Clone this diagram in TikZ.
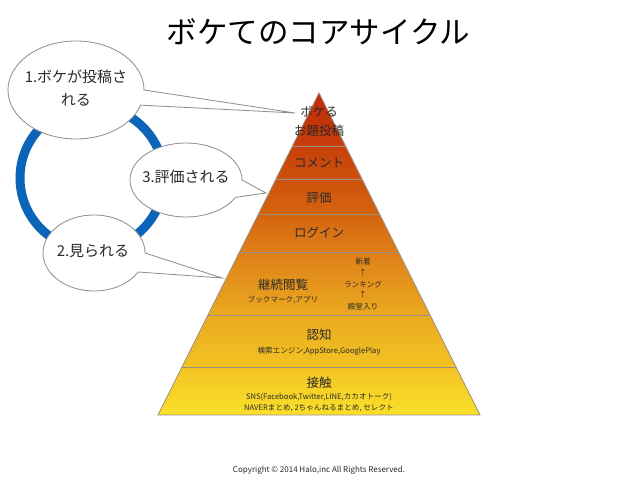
\documentclass[tikz,border=0pt]{standalone}
\usepackage{fontspec}
\setmainfont{Noto Sans CJK JP}[BoldFont={Noto Sans CJK JP}]
\usetikzlibrary{calc}
\definecolor{inktxt}{HTML}{2A2A2A}
\definecolor{layerline}{HTML}{9A8F80}
\definecolor{bubbleline}{HTML}{8C8C8C}
\definecolor{ringblue}{HTML}{0A64B8}
\definecolor{c0}{HTML}{FBE02A}
\definecolor{c1}{HTML}{F2C423}
\definecolor{c2}{HTML}{EAAA20}
\definecolor{c3}{HTML}{DF8019}
\definecolor{c4}{HTML}{D4640F}
\definecolor{c5}{HTML}{C8400A}
\definecolor{c6}{HTML}{C02A08}
\pgfdeclareverticalshading{pyrshade}{100bp}{
  color(0bp)=(c0); color(25bp)=(c0); color(32.3bp)=(c1); color(40.35bp)=(c2); color(50.15bp)=(c3);
  color(56.2bp)=(c4); color(66.5bp)=(c5); color(75bp)=(c6); color(100bp)=(c6)}
\newcommand{\speech}[9]{%
  \path[bubblestyle] ({#2+#4*cos(#6)},{#3+#5*sin(#6)})
    arc[start angle=#6,end angle=#7,x radius=#4pt,y radius=#5pt]
    -- (#8,#9) -- cycle;
  \node[bubbletext] (#1) at (#2,#3) {};}
\tikzset{
  bubblestyle/.style={draw=bubbleline,fill=white,line width=0.8pt,line join=miter},
  bubbletext/.style={inner sep=0pt,font=\fontsize{15}{23}\selectfont,text=inktxt,align=center},
  layerlabel/.style={inner sep=0pt,font=\fontsize{12.5}{19}\selectfont,text=inktxt,align=center},
  smalllabel/.style={inner sep=0pt,font=\fontsize{7.6}{11}\selectfont,text=inktxt,align=center},
  layersep/.style={draw=layerline,line width=1pt},
  ringstyle/.style={draw=ringblue,line width=9pt}
}
\begin{document}
\begin{tikzpicture}[x=1pt,y=1pt]
\useasboundingbox (0,0) rectangle (638,479);
\fill[white] (0,0) rectangle (638,479);
\node[inner sep=0pt,font=\fontsize{30.5}{36}\selectfont,text=black] (title) at (318.5,447) {ボケてのコアサイクル};

% pyramid
\coordinate (apex) at (319,386);
\coordinate (bl) at (158,64);
\coordinate (br) at (480,64);
\shade[shading=pyrshade,draw=layerline,line width=0.8pt] (apex) -- (bl) -- (br) -- cycle;
\foreach \n/\f in {a/0.1677,b/0.2671,c/0.3758,d/0.4969,e/0.6925,f/0.8540}{
  \coordinate (L\n) at ($(apex)!\f!(bl)$);
  \coordinate (R\n) at ($(apex)!\f!(br)$);
  \draw[layersep] (L\n) -- (R\n);
}
% ring
\node[inner sep=0pt,minimum size=0pt] (ringcentre) at (92,301) {};
\draw[ringstyle] (ringcentre) circle[radius=72pt];

% bubbles
\speech{b1}{76}{389}{68}{49}{0}{342}{295}{366}
\speech{b3}{186}{299}{56}{37}{0}{332}{266}{286}
\speech{b2}{94}{226}{51}{38}{0}{330}{222}{201}
\node[bubbletext] (b1t) at (76,391) {1.ボケが投稿さ\\れる};
\node[bubbletext] (b3t) at (186,302) {3.評価される};
\node[bubbletext] (b2t) at (93,228) {2.見られる};

% layer labels
\node[layerlabel] (t1) at (319,357.5) {ボケる\\お題投稿};
\node[layerlabel] (t2) at (319,316) {コメント};
\node[layerlabel] (t3) at (319,281) {評価};
\node[layerlabel] (t4) at (319,246) {ログイン};
\node[layerlabel] (t5) at (283,194) {継続閲覧};
\node[smalllabel] (t5s) at (283,179.5) {ブックマーク,アプリ};
\node[smalllabel] (n1) at (363,217) {新着};
\node[smalllabel] (n2) at (363,206) {↑};
\node[smalllabel] (n3) at (363,194.5) {ランキング};
\node[smalllabel] (n4) at (363,184) {↑};
\node[smalllabel] (n5) at (363,172) {殿堂入り};
\node[layerlabel] (t6) at (319,144) {認知};
\node[smalllabel] (t6s) at (319,128) {検索エンジン,AppStore,GooglePlay};
\node[layerlabel] (t7) at (319,96) {接触};
\node[smalllabel] (t7s) at (319,76) {SNS(Facebook,Twitter,LINE,カカオトーク)\\NAVERまとめ, 2ちゃんねるまとめ, セレクト};
\node[inner sep=0pt,font=\fontsize{8}{10}\selectfont,text=inktxt] (copy) at (319,9) {Copyright © 2014 Halo,inc All Rights Reserved.};
\end{tikzpicture}
\end{document}
